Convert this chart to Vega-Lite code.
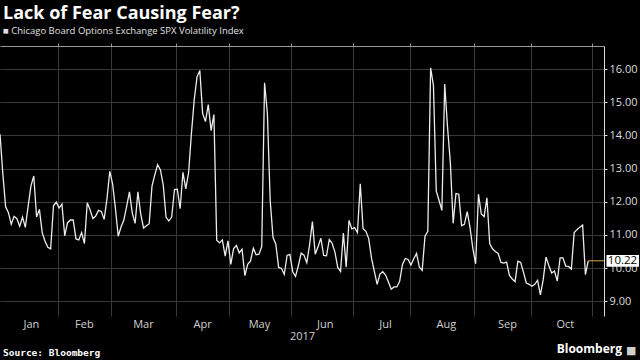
{
  "$schema": "https://vega.github.io/schema/vega-lite/v6.json",
  "width": 604,
  "height": 270,
  "autosize": {"type": "none"},
  "padding": {"left": 0, "top": 46, "right": 36, "bottom": 44},
  "background": "#000000",
  "config": {
    "view": {"stroke": null},
    "font": "Open Sans",
    "axis": {"gridColor": "#383838", "gridWidth": 1, "labelOverlap": false, "labelFont": "Open Sans", "labelFontSize": 11}
  },
  "title": {
    "text": "Lack of Fear Causing Fear?",
    "subtitle": "■ Chicago Board Options Exchange SPX Volatility Index",
    "anchor": "start",
    "frame": "group",
    "dx": 3,
    "offset": 7,
    "color": "#ffffff",
    "font": "Open Sans",
    "fontSize": 18,
    "fontWeight": "bold",
    "subtitleColor": "#e0e0e0",
    "subtitleFont": "Open Sans",
    "subtitleFontSize": 9.5,
    "subtitlePadding": 3
  },
  "datasets": {
    "vix": [
      {"i":0,"v":14.04},
      {"i":1,"v":12.85},{"i":2,"v":11.85},{"i":3,"v":11.67},{"i":4,"v":11.32},{"i":5,"v":11.56},{"i":6,"v":11.49},{"i":7,"v":11.26},{"i":8,"v":11.54},{"i":9,"v":11.23},{"i":10,"v":11.87},
      {"i":11,"v":12.48},{"i":12,"v":12.78},{"i":13,"v":11.54},{"i":14,"v":11.77},{"i":15,"v":11.07},{"i":16,"v":10.81},{"i":17,"v":10.63},{"i":18,"v":10.58},{"i":19,"v":11.88},{"i":20,"v":11.99},
      {"i":21,"v":11.81},{"i":22,"v":11.93},{"i":23,"v":10.97},{"i":24,"v":11.37},{"i":25,"v":11.45},{"i":26,"v":11.45},{"i":27,"v":10.88},{"i":28,"v":10.85},{"i":29,"v":11.07},{"i":30,"v":10.74},
      {"i":31,"v":11.97},{"i":32,"v":11.76},{"i":33,"v":11.49},{"i":34,"v":11.57},{"i":35,"v":11.74},{"i":36,"v":11.71},{"i":37,"v":11.47},{"i":38,"v":12.09},{"i":39,"v":12.92},
      {"i":40,"v":12.54},{"i":41,"v":11.81},{"i":42,"v":10.96},{"i":43,"v":11.24},{"i":44,"v":11.45},{"i":45,"v":11.86},{"i":46,"v":12.30},{"i":47,"v":11.66},{"i":48,"v":11.35},{"i":49,"v":12.30},
      {"i":50,"v":11.63},{"i":51,"v":11.21},{"i":52,"v":11.28},{"i":53,"v":11.34},{"i":54,"v":12.47},{"i":55,"v":12.81},{"i":56,"v":13.12},{"i":57,"v":12.96},{"i":58,"v":12.50},{"i":59,"v":11.53},
      {"i":60,"v":11.42},{"i":61,"v":11.54},{"i":62,"v":12.37},
      {"i":63,"v":12.38},{"i":64,"v":11.79},{"i":65,"v":12.89},{"i":66,"v":12.39},{"i":67,"v":12.87},{"i":68,"v":14.05},{"i":69,"v":15.07},{"i":70,"v":15.77},{"i":71,"v":15.96},{"i":72,"v":14.66},
      {"i":73,"v":14.42},{"i":74,"v":14.93},{"i":75,"v":14.15},{"i":76,"v":14.63},{"i":77,"v":10.84},{"i":78,"v":10.76},{"i":79,"v":10.85},{"i":80,"v":10.36},{"i":81,"v":10.82},
      {"i":82,"v":10.11},{"i":83,"v":10.59},{"i":84,"v":10.68},{"i":85,"v":10.46},{"i":86,"v":10.57},{"i":87,"v":9.77},{"i":88,"v":10.11},{"i":89,"v":10.21},{"i":90,"v":10.60},{"i":91,"v":10.40},
      {"i":92,"v":10.42},{"i":93,"v":10.65},{"i":94,"v":15.59},{"i":95,"v":14.66},{"i":96,"v":12.04},{"i":97,"v":10.93},{"i":98,"v":10.72},{"i":99,"v":10.02},{"i":100,"v":9.99},{"i":101,"v":9.81},
      {"i":102,"v":10.38},{"i":103,"v":10.41},
      {"i":104,"v":9.89},{"i":105,"v":9.75},{"i":106,"v":10.07},{"i":107,"v":10.45},{"i":108,"v":10.39},{"i":109,"v":10.16},{"i":110,"v":10.70},{"i":111,"v":11.40},{"i":112,"v":10.42},{"i":113,"v":10.64},
      {"i":114,"v":10.90},{"i":115,"v":10.38},{"i":116,"v":10.37},{"i":117,"v":10.86},{"i":118,"v":10.75},{"i":119,"v":10.48},{"i":120,"v":10.02},{"i":121,"v":9.90},{"i":122,"v":11.06},{"i":123,"v":10.03},
      {"i":124,"v":11.44},{"i":125,"v":11.18},
      {"i":126,"v":11.22},{"i":127,"v":11.07},{"i":128,"v":12.54},{"i":129,"v":11.19},{"i":130,"v":11.11},{"i":131,"v":10.89},{"i":132,"v":10.30},{"i":133,"v":9.90},{"i":134,"v":9.51},{"i":135,"v":9.82},
      {"i":136,"v":9.89},{"i":137,"v":9.79},{"i":138,"v":9.58},{"i":139,"v":9.36},{"i":140,"v":9.43},{"i":141,"v":9.43},{"i":142,"v":9.60},{"i":143,"v":10.11},{"i":144,"v":10.29},{"i":145,"v":10.26},
      {"i":146,"v":10.09},{"i":147,"v":10.28},{"i":148,"v":10.44},{"i":149,"v":10.03},{"i":150,"v":9.93},{"i":151,"v":10.96},{"i":152,"v":11.11},{"i":153,"v":16.04},{"i":154,"v":15.51},{"i":155,"v":12.33},
      {"i":156,"v":12.04},{"i":157,"v":11.74},{"i":158,"v":15.55},{"i":159,"v":14.26},{"i":160,"v":13.19},{"i":161,"v":11.35},{"i":162,"v":12.25},{"i":163,"v":12.23},{"i":164,"v":11.28},{"i":165,"v":11.32},
      {"i":166,"v":11.70},{"i":167,"v":11.22},{"i":168,"v":10.59},
      {"i":169,"v":10.13},{"i":170,"v":12.23},{"i":171,"v":11.63},{"i":172,"v":11.55},{"i":173,"v":12.12},{"i":174,"v":10.73},{"i":175,"v":10.58},{"i":176,"v":10.50},{"i":177,"v":10.44},{"i":178,"v":10.17},
      {"i":179,"v":10.15},{"i":180,"v":10.18},{"i":181,"v":9.78},{"i":182,"v":9.67},{"i":183,"v":9.59},{"i":184,"v":10.21},{"i":185,"v":10.17},{"i":186,"v":9.87},{"i":187,"v":9.55},{"i":188,"v":9.51},
      {"i":189,"v":9.45},{"i":190,"v":9.51},{"i":191,"v":9.63},{"i":192,"v":9.19},{"i":193,"v":9.65},{"i":194,"v":10.33},{"i":195,"v":10.08},{"i":196,"v":9.85},{"i":197,"v":9.91},{"i":198,"v":9.61},
      {"i":199,"v":10.31},{"i":200,"v":10.31},{"i":201,"v":10.06},{"i":202,"v":10.05},{"i":203,"v":9.97},{"i":204,"v":11.07},{"i":205,"v":11.16},{"i":206,"v":11.23},{"i":207,"v":11.30},{"i":208,"v":9.80},
      {"i":209,"v":10.22}
    ],
    "last": [{"i": 209, "v": 10.22, "label": "10.22"}],
    "source": [{"t": "Source: Bloomberg"}],
    "brand": [{"t": "Bloomberg"}]
  },
  "resolve": {"axis": {"x": "independent"}},
  "encoding": {
    "x": {
      "field": "i",
      "type": "quantitative",
      "scale": {"domain": [0, 214.6], "nice": false, "zero": false},
      "axis": {
        "values": [20.5,39.5,62.5,81.5,103.5,125.5,145.5,168.5,188.5,210.5],
        "labels": false,
        "grid": true,
        "gridColor": "#383838",
        "ticks": true,
        "tickSize": 3,
        "tickColor": "#9a9a9a",
        "domainColor": "#9a9a9a",
        "title": null
      }
    },
    "y": {
      "field": "v",
      "type": "quantitative",
      "scale": {"domain": [8.554, 16.7], "nice": false, "zero": false},
      "axis": {
        "orient": "right",
        "values": [9,10,11,12,13,14,15,16],
        "format": ".2f",
        "grid": true,
        "gridColor": "#383838",
        "tickSize": 3,
        "tickColor": "#dddddd",
        "domainColor": "#dddddd",
        "labelColor": "#dddddd",
        "labelFontSize": 11,
        "labelPadding": 2,
        "labelOverlap": false,
        "labelBound": false,
        "title": null
      }
    }
  },
  "layer": [
    {
      "data": {"name": "vix"},
      "mark": {"type": "line", "color": "#ececec", "strokeWidth": 1.3, "clip": true},
      "encoding": {
        "x": {
          "field": "i",
          "type": "quantitative",
          "axis": {
            "values": [11,29.8,50.8,71.8,92,115.4,136.8,158.4,180.1,200.7],
            "labelExpr": "datum.value==11?'Jan':datum.value==29.8?'Feb':datum.value==50.8?'Mar':datum.value==71.8?'Apr':datum.value==92?'May':datum.value==115.4?'Jun':datum.value==136.8?'Jul':datum.value==158.4?'Aug':datum.value==180.1?'Sep':'Oct'",
            "grid": false,
            "ticks": false,
            "domain": false,
            "labelColor": "#d0d0d0",
            "labelFontSize": 11,
            "labelPadding": 2,
            "labelFlush": false,
            "labelOverlap": false,
            "title": "2017",
            "titleColor": "#d0d0d0",
            "titleFont": "Open Sans",
            "titleFontWeight": "normal",
            "titleFontSize": 11,
            "titlePadding": 1
          }
        }
      }
    },
    {
      "data": {"name": "last"},
      "mark": {"type": "rule", "color": "#b8913c", "strokeWidth": 1.2},
      "encoding": {
        "x2": {"value": 604}
      }
    },
    {
      "data": {"name": "last"},
      "mark": {"type": "point", "shape": "M-1,-0.36L1,-0.36L1,0.36L-1,0.36Z", "size": 1060, "filled": true, "color": "#ffffff", "opacity": 1, "strokeWidth": 0},
      "encoding": {
        "x": {"value": 622.75}
      }
    },
    {
      "data": {"name": "last"},
      "mark": {"type": "text", "color": "#000000", "font": "Open Sans", "fontSize": 11.5, "align": "center", "baseline": "middle"},
      "encoding": {
        "x": {"value": 622.5},
        "text": {"field": "label"}
      }
    },
    {
      "data": {"name": "source"},
      "mark": {"type": "text", "color": "#ffffff", "font": "DejaVu Sans Mono", "fontWeight": "bold", "fontSize": 9.5, "align": "left", "baseline": "alphabetic"},
      "encoding": {
        "x": {"value": 3},
        "y": {"value": 310},
        "text": {"field": "t"}
      }
    },
    {
      "data": {"name": "brand"},
      "mark": {"type": "text", "color": "#ffffff", "font": "Open Sans", "fontWeight": "bold", "fontSize": 12, "align": "right", "baseline": "alphabetic"},
      "encoding": {
        "x": {"value": 622},
        "y": {"value": 307},
        "text": {"field": "t"}
      }
    },
    {
      "data": {"name": "brand"},
      "mark": {"type": "text", "color": "#cfcfcf", "font": "DejaVu Sans", "fontSize": 11, "align": "left", "baseline": "alphabetic", "text": "■"},
      "encoding": {
        "x": {"value": 626},
        "y": {"value": 308}
      }
    }
  ]
}
